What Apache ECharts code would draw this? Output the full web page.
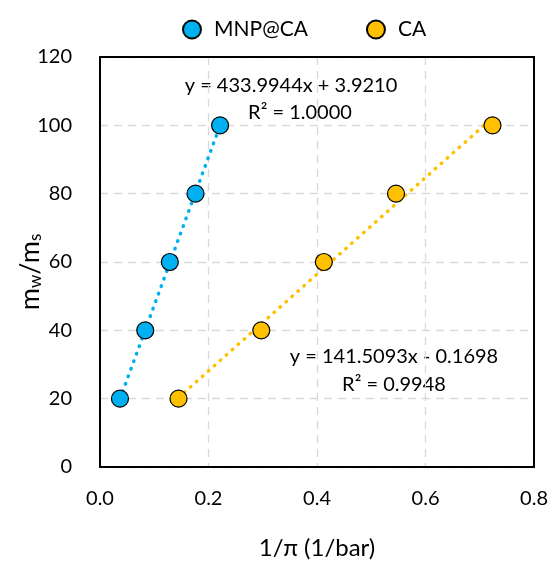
<!DOCTYPE html>
<html><head><meta charset="utf-8">
<script src="https://cdn.jsdelivr.net/npm/echarts@6/dist/echarts.min.js"></script>
<style>html,body{margin:0;padding:0;background:#fff}#c{width:551px;height:565px}</style>
</head><body><div id="c"></div>
<script>
// Data
var mnpX = [0.0368, 0.0834, 0.1287, 0.1760, 0.2213];
var mnpY = [20, 40, 60, 80, 100];
var caX = [0.1447, 0.2973, 0.4126, 0.5456, 0.7234];
var caY = [20, 40, 60, 80, 100];
// Trendline coefficients as printed on the chart
var mnpFit = [433.9944, 3.9210];
var caFit = [141.5093, -0.1698];
var mnpLabels = ['y = 433.9944x + 3.9210', 'R² = 1.0000'];
var caLabels = ['y = 141.5093x - 0.1698', 'R² = 0.9948'];
var xTicks = [0, 0.2, 0.4, 0.6, 0.8];
var yTicks = [0, 20, 40, 60, 80, 100, 120];

var FONT = 'Lato';
function pairs(xs, ys){ return xs.map(function(x,i){return [x, ys[i]];}); }
function trend(xs, fit){
  var lo = Math.min.apply(null, xs), hi = Math.max.apply(null, xs);
  return [[lo, fit[0]*lo+fit[1]], [hi, fit[0]*hi+fit[1]]];
}
var blue = '#00B0F0', orange = '#FFC000';
var chart = echarts.init(document.getElementById('c'));
var dotted = {type:[0.5, 7.5], cap:'round', width:3.5};
var split = {show:true, lineStyle:{color:'#d9d9d9', type:[8,6], width:1.3}};
var xmin = xTicks[0], xmax = xTicks[xTicks.length-1], ymin = yTicks[0], ymax = yTicks[yTicks.length-1];
chart.setOption({
  animation:false,
  grid:{left:100, right:16, top:57, bottom:92},
  legend:{top:14, left:177, itemGap:58, itemWidth:18, itemHeight:18,
    data:['MNP@CA','CA'], textStyle:{fontFamily:FONT, fontSize:21, color:'#000', padding:[0,0,0,8]}, icon:'circle'},
  xAxis:[{type:'value', min:xmin, max:xmax, interval:0.2,
    name:'1/π (1/bar)', nameLocation:'middle', nameGap:69,
    nameTextStyle:{fontFamily:FONT, fontSize:24, color:'#000'},
    axisLine:{lineStyle:{color:'#000', width:2}}, axisTick:{show:false},
    axisLabel:{margin:22, fontFamily:FONT, fontSize:20, color:'#000', formatter:function(v){return v.toFixed(1);}},
    splitLine:split},
    {type:'value', position:'top', min:xmin, max:xmax, interval:0.2,
    axisLine:{show:true, onZero:false, lineStyle:{color:'#000', width:2}}, axisTick:{show:false}, axisLabel:{show:false}, splitLine:{show:false}}],
  yAxis:[{type:'value', min:ymin, max:ymax, interval:20,
    axisLine:{lineStyle:{color:'#000', width:2}}, axisTick:{show:false},
    axisLabel:{margin:28, fontFamily:FONT, fontSize:20, color:'#000'},
    splitLine:split},
    {type:'value', position:'right', min:ymin, max:ymax, interval:20,
    axisLine:{show:true, onZero:false, lineStyle:{color:'#000', width:2}}, axisTick:{show:false}, axisLabel:{show:false}, splitLine:{show:false}}],
  series:[
    {name:'MNP@CA-fit', type:'line', data:trend(mnpX, mnpFit), showSymbol:false, symbol:'none', lineStyle:Object.assign({color:blue}, dotted), z:2, silent:true},
    {name:'CA-fit', type:'line', data:trend(caX, caFit), showSymbol:false, symbol:'none', lineStyle:Object.assign({color:orange}, dotted), z:2, silent:true},
    {name:'MNP@CA', type:'scatter', data:pairs(mnpX, mnpY), symbolSize:17, itemStyle:{color:blue, borderColor:'#000', borderWidth:1.2, opacity:1}, z:3},
    {name:'CA', type:'scatter', data:pairs(caX, caY), symbolSize:17, itemStyle:{color:orange, borderColor:'#000', borderWidth:1.2, opacity:1}, z:3}
  ],
  graphic:[
    {type:'text', style:{text:mnpLabels[0], x:291, y:86, align:'center', verticalAlign:'middle', fontFamily:FONT, fontSize:20, fill:'#000'}},
    {type:'text', style:{text:mnpLabels[1], x:300, y:113, align:'center', verticalAlign:'middle', fontFamily:FONT, fontSize:20, fill:'#000'}},
    {type:'text', style:{text:caLabels[0], x:394, y:357, align:'center', verticalAlign:'middle', fontFamily:FONT, fontSize:20, fill:'#000'}},
    {type:'text', style:{text:caLabels[1], x:394, y:385, align:'center', verticalAlign:'middle', fontFamily:FONT, fontSize:20, fill:'#000'}},
    {type:'text', x:30, y:272, rotation:Math.PI/2,
     style:{text:'{a|m}{s|w}{a|/m}{t|s}', align:'center', verticalAlign:'middle',
       rich:{a:{fontFamily:FONT, fontSize:27, fill:'#000', verticalAlign:'middle'},
             s:{fontFamily:FONT, fontSize:17, fill:'#000', padding:[12,0,0,0]},
             t:{fontFamily:FONT, fontSize:17, fill:'#000', padding:[12,0,0,0]}}}}
  ]
});
</script></body></html>
